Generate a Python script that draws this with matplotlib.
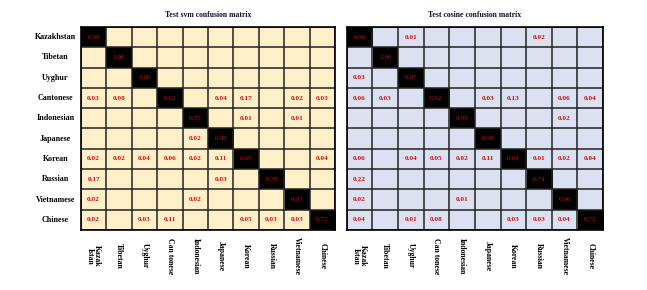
import numpy as np
import matplotlib
matplotlib.use('Agg')
from matplotlib import pyplot as plt

plt.rcParams['font.family'] = ['Liberation Serif', 'DejaVu Serif']
plt.rcParams['font.weight'] = 'bold'

N = np.nan

row_labels = ['Kazakhstan', 'Tibetan', 'Uyghur', 'Cantonese', 'Indonesian',
              'Japanese', 'Korean', 'Russian', 'Vietnamese', 'Chinese']
col_labels = ['Kazak\nIstan', 'Tibetan', 'Uyghur', 'Can tonese', 'Indonesian',
              'Japanese', 'Korean', 'Russian', 'Vietnamese', 'Chinese']

svm = np.array([
    [0.99, N, N, N, N, N, N, N, N, N],
    [N, 1.00, N, N, N, N, N, N, N, N],
    [N, N, 1.00, N, N, N, N, N, N, N],
    [0.03, 0.08, N, 0.62, N, 0.04, 0.17, N, 0.02, 0.03],
    [N, N, N, N, 0.95, N, 0.01, N, 0.01, N],
    [N, N, N, N, 0.02, 0.98, N, N, N, N],
    [0.02, 0.02, 0.04, 0.06, 0.02, 0.11, 0.69, N, N, 0.04],
    [0.17, N, N, N, N, 0.03, N, 0.78, N, N],
    [0.02, N, N, N, 0.02, N, N, N, 0.95, N],
    [0.02, N, 0.03, 0.11, N, N, 0.05, 0.03, 0.03, 0.72],
])

cosine = np.array([
    [0.96, N, 0.01, N, N, N, N, 0.02, N, N],
    [N, 1.00, N, N, N, N, N, N, N, N],
    [0.03, N, 0.97, N, N, N, N, N, N, N],
    [0.06, 0.03, N, 0.62, N, 0.03, 0.13, N, 0.06, 0.04],
    [N, N, N, N, 0.95, N, N, N, 0.02, N],
    [N, N, N, N, N, 0.98, N, N, N, N],
    [0.06, N, 0.04, 0.05, 0.02, 0.11, 0.64, 0.01, 0.02, 0.04],
    [0.22, N, N, N, N, N, N, 0.74, N, N],
    [0.02, N, N, N, 0.01, N, N, N, 0.96, N],
    [0.04, N, 0.01, 0.08, N, N, 0.03, 0.03, 0.04, 0.75],
])


def draw_matrix(ax, mat, bg, title, show_rows):
    n = mat.shape[0]
    img = np.tile(np.array(matplotlib.colors.to_rgb(bg)), (n, n, 1))
    img[np.arange(n), np.arange(n)] = 0.0
    ax.imshow(img, aspect='auto', interpolation='nearest',
              extent=(-0.5, n - 0.5, n - 0.5, -0.5))
    for i in range(n):
        for j in range(n):
            v = mat[i, j]
            if np.isnan(v):
                continue
            c = '#c8101c' if i == j else '#d01010'
            ax.text(j, i, f'{v:.2f}', ha='center', va='center',
                    fontsize=5.2, color=c, fontweight='normal' if i == j else 'bold')
    ax.set_xticks(np.arange(n + 1) - 0.5, minor=True)
    ax.set_yticks(np.arange(n + 1) - 0.5, minor=True)
    ax.grid(which='minor', color='#222222', linewidth=1.1)
    ax.tick_params(which='both', length=0)
    ax.set_xticks([])
    ax.set_yticks([])
    for s in ax.spines.values():
        s.set_linewidth(1.2)
    ax.set_title(title, fontsize=5.6, fontweight='bold', color='#111133', pad=7)
    for j, lab in enumerate(col_labels):
        ax.text(j, n + 0.78, lab, rotation=270, ha='center', va='center',
                fontsize=5.6, fontweight='bold', linespacing=0.9)
    if show_rows:
        for i, lab in enumerate(row_labels):
            ax.text(-1.5, i, lab, ha='center', va='center',
                    fontsize=5.8, fontweight='bold')


fig = plt.figure(figsize=(6.47, 2.90), dpi=100)
ax1 = fig.add_axes([0.125, 0.207, 0.393, 0.700])
ax2 = fig.add_axes([0.536, 0.207, 0.396, 0.700])

draw_matrix(ax1, svm, '#fff0c9', 'Test svm confusion matrix', True)
draw_matrix(ax2, cosine, '#dce1f2', 'Test cosine confusion matrix', False)

fig.savefig('out.png', dpi=100)
